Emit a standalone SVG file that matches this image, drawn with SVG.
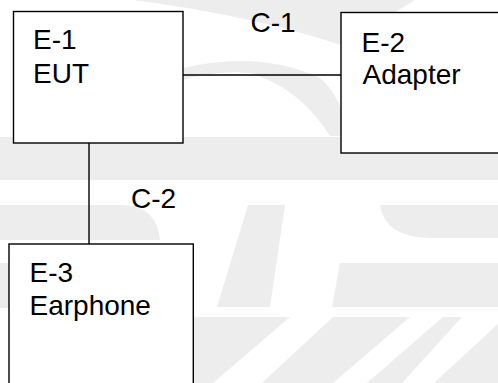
<svg xmlns="http://www.w3.org/2000/svg" width="498" height="383" viewBox="0 0 498 383">
<style>
.wm{fill:#ededed;stroke:none}
.wh{fill:#ffffff;stroke:none}
.box{fill:#ffffff;stroke:#000000;stroke-width:1.4}
.conn{fill:none;stroke:#000000;stroke-width:1.4}
.t{font-family:"Liberation Sans",Arial,sans-serif;font-size:28px;fill:#000000}
</style>
<rect x="0" y="0" width="498" height="383" fill="#ffffff"/>
<g id="watermark">
<path class="wm" d="M133,0 L415,0 L341,45 Q250,15 133,0 Z"/>
<path class="wm" d="M183,68 Q260,50 320,78 Q345,100 345,136 L330,136 Q300,88 250,73 Q215,70 183,80 Z"/>
<rect class="wm" x="0" y="137" width="498" height="43"/>
<path class="wm" d="M0,205 L120,205 Q157,205 160,240 L0,240 Z"/>
<path class="wm" d="M380,205 L498,205 L498,238 L432,238 Q385,238 380,205 Z"/>
<polygon class="wm" points="248,205 285,205 270,307 217,307"/>
<polygon class="wm" points="340,263 498,263 498,307 332,307"/>
<rect class="wm" x="0" y="263" width="9" height="45"/>
<rect class="wm" x="193" y="317" width="305" height="66"/>
<polygon class="wh" points="290,317 333,317 262,383 213,383"/>
<polygon class="wh" points="410,317 443,317 367,383 333,383"/>
<polygon class="wh" points="462,317 498,317 498,324 434,383 402,383"/>
</g>
<g id="connectors">
<line class="conn" x1="183" y1="75" x2="341" y2="75"/>
<text class="t" x="250.5" y="31.5">C-1</text>
<line class="conn" x1="89" y1="143" x2="89" y2="244"/>
<text class="t" x="131" y="208">C-2</text>
</g>
<g id="E-1">
<rect class="box" x="13.5" y="11.5" width="169.5" height="131.5"/>
<text class="t" x="33" y="49">E-1</text>
<text class="t" x="33" y="82.5">EUT</text>
</g>
<g id="E-2">
<rect class="box" x="341" y="12.5" width="170" height="140.5"/>
<text class="t" x="361.5" y="51.5">E-2</text>
<text class="t" x="362.5" y="84">Adapter</text>
</g>
<g id="E-3">
<rect class="box" x="9" y="244" width="184.3" height="150"/>
<text class="t" x="29.5" y="281.5">E-3</text>
<text class="t" x="29.5" y="315">Earphone</text>
</g>
</svg>
